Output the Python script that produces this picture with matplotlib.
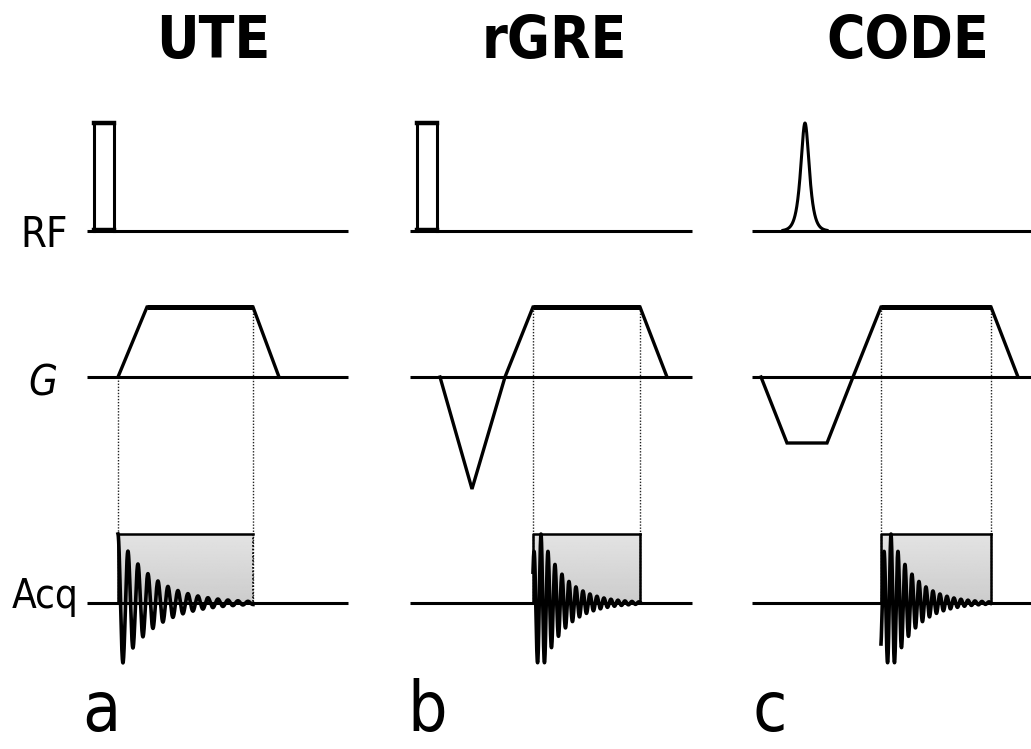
import numpy as np
import matplotlib
matplotlib.use('Agg')
import matplotlib.pyplot as plt
from matplotlib import font_manager
from matplotlib.font_manager import FontProperties

W, H = 1031, 749

# text
titles = ['UTE', 'rGRE', 'CODE']
panel_letters = ['a', 'b', 'c']
channel_labels = ['RF', 'G', 'Acq']

# panel geometry (px): start of the baselines and their length
panel_x0 = [87, 410, 752]
panel_len = [261, 282, 279]
title_x = [213, 554, 908]
letter_x = [82, 407, 752]

# channel baselines (px from top)
y_rf, y_g, y_acq = 231, 377, 603

# RF pulses: hard pulse (start, end) for UTE / rGRE, sech-shaped pulse for CODE
rf_kind = ['hard', 'hard', 'soft']
rf_start = [7, 7, 31]
rf_end = [27, 27, 75]
rf_height = 108
rf_soft_width = 3.8

# readout gradient breakpoints (time offset, amplitude, positive = up)
g_t = [[31, 60, 166, 192],
       [30, 62, 95, 123, 230, 257],
       [9, 35, 75, 101, 129, 239, 266]]
g_a = [[0, 70, 70, 0],
       [0, -112, 0, 70, 70, 0],
       [0, -66, -66, 0, 70, 70, 0]]
g_flat = [(60, 166), (123, 230), (129, 239)]

# acquisition window and signal
acq_start = [31, 123, 129]
acq_end = [166, 230, 239]
acq_height = 69
fid_amp = [69, 69, 69]
fid_peak = [0, 8, 10]
fid_period = [10, 7, 7]
fid_decay = [35, 24, 24]
acq_right_style = ['dotted', 'solid', 'solid']


# look for a narrow / condensed sans face
def find_narrow(bold, italic=False):
    best = None
    for f in font_manager.fontManager.ttflist:
        st = f.stretch
        narrow = ('Narrow' in f.name or 'Condensed' in f.name or
                  (isinstance(st, str) and 'condensed' in st and 'semi' not in st) or
                  (isinstance(st, (int, float)) and st <= 300))
        if not narrow or 'Mono' in f.name or 'Serif' in f.name:
            continue
        if (f.style != 'normal') != italic:
            continue
        w = f.weight if isinstance(f.weight, (int, float)) else (700 if 'bold' in str(f.weight) else 400)
        score = abs(w - (700 if bold else 400))
        if best is None or score < best[0]:
            best = (score, f.fname)
    return best[1] if best else None


reg_file = find_narrow(False)
bold_file = find_narrow(True)
ital_file = find_narrow(False, italic=True)
k = 1.0 if reg_file else 0.78
fp_reg = FontProperties(fname=reg_file) if reg_file else FontProperties(family='DejaVu Sans')
fp_bold = FontProperties(fname=bold_file) if bold_file else \
    FontProperties(family='DejaVu Sans', weight='bold')
if ital_file:
    fp_ital = FontProperties(fname=ital_file)
else:
    fp_ital = FontProperties(family='DejaVu Sans', style='italic')

fig = plt.figure(figsize=(W / 100, H / 100), dpi=100)
ax = fig.add_axes([0, 0, 1, 1])
ax.set_xlim(0, W)
ax.set_ylim(H, 0)
ax.axis('off')

lw = 2.2
for i in range(3):
    x0 = panel_x0[i]
    x1 = min(x0 + panel_len[i], W)

    # baselines
    for yb in (y_rf, y_g, y_acq):
        ax.plot([x0, x1], [yb, yb], color='black', lw=lw, solid_capstyle='butt', zorder=3)

    # RF
    if rf_kind[i] == 'hard':
        xs, xe = x0 + rf_start[i], x0 + rf_end[i]
        ax.plot([xs, xs, xe, xe], [y_rf, y_rf - rf_height, y_rf - rf_height, y_rf],
                color='black', lw=lw, zorder=3)
        ax.plot([xs, xe], [y_rf - rf_height, y_rf - rf_height], color='black', lw=3.2, zorder=3)
        ax.plot([xs, xe], [y_rf - 1, y_rf - 1], color='black', lw=3.2, zorder=3)
    else:
        c = x0 + (rf_start[i] + rf_end[i]) / 2
        half = (rf_end[i] - rf_start[i]) / 2
        t = np.linspace(-half, half, 400)
        ax.plot(c + t, y_rf - rf_height / np.cosh(t / rf_soft_width),
                color='black', lw=lw, zorder=3)

    # gradient
    gx = x0 + np.array(g_t[i])
    gy = y_g - np.array(g_a[i])
    ax.plot(gx, gy, color='black', lw=2.4, solid_joinstyle='miter', zorder=3)
    fs, fe = g_flat[i]
    ax.plot([x0 + fs, x0 + fe], [y_g - 70, y_g - 70], color='black', lw=3.6,
            solid_capstyle='butt', zorder=3)

    # dotted guides from gradient to acquisition
    for ta in (acq_start[i], acq_end[i]):
        ytop = y_g - np.interp(ta, g_t[i], g_a[i])
        ax.plot([x0 + ta, x0 + ta], [ytop, y_acq], color='#222222', lw=1.0,
                linestyle=(0, (1, 1.2)), zorder=2)

    # acquisition window with gradient fill
    ax0, ax1 = x0 + acq_start[i], x0 + acq_end[i]
    grad = np.linspace(0.89, 0.80, 64).reshape(-1, 1)
    ax.imshow(grad, extent=(ax0, ax1, y_acq, y_acq - acq_height), cmap='gray',
              vmin=0, vmax=1, aspect='auto', origin='upper', zorder=1,
              interpolation='bilinear')
    top = y_acq - acq_height
    ax.plot([ax0, ax0, ax1], [y_acq, top, top], color='black', lw=1.8, zorder=2)
    if acq_right_style[i] == 'solid':
        ax.plot([ax1, ax1], [top, y_acq], color='black', lw=1.8, zorder=2)
    else:
        ax.plot([ax1, ax1], [top, y_acq], color='black', lw=1.2,
                linestyle=(0, (1, 1.2)), zorder=2)

    # free induction decay
    t = np.linspace(0, acq_end[i] - acq_start[i], 3000)
    env = fid_amp[i] * np.exp(-np.abs(t - fid_peak[i]) / fid_decay[i])
    s = env * np.cos(2 * np.pi * (t - fid_peak[i]) / fid_period[i])
    ax.plot(ax0 + t, y_acq - s, color='black', lw=2.6, zorder=4)

    # titles and panel letters
    ax.text(title_x[i], 58, titles[i], fontproperties=fp_bold,
            fontsize=42 * k, ha='center', va='baseline')
    ax.text(letter_x[i], 731, panel_letters[i], fontproperties=fp_reg,
            fontsize=50 * k, ha='left', va='baseline')

# channel labels
ax.text(20, 247, channel_labels[0], fontproperties=fp_reg, fontsize=30 * k,
        ha='left', va='baseline')
ax.text(28, 395, channel_labels[1], fontproperties=fp_ital, fontsize=30 * k,
        ha='left', va='baseline')
ax.text(12, 608, channel_labels[2], fontproperties=fp_reg, fontsize=29 * k,
        ha='left', va='baseline')

fig.savefig('out.png', dpi=100, facecolor='white')
